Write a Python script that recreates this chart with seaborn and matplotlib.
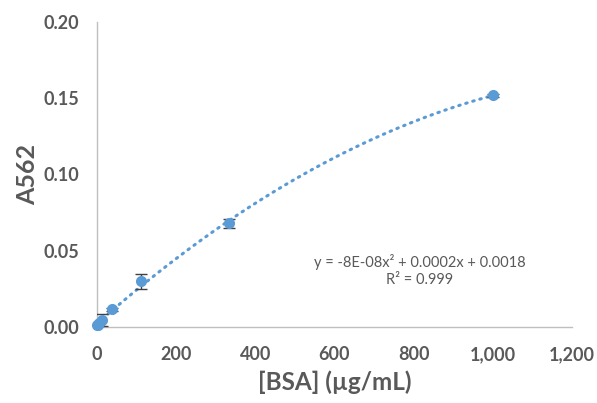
import numpy as np
import pandas as pd
import matplotlib
matplotlib.use("Agg")
import matplotlib.pyplot as plt
import seaborn as sns

# Data
bsa = [0, 1.37, 4.1, 12.3, 37, 111, 333, 1000]
a562 = [0.0010, 0.0015, 0.0025, 0.0045, 0.0115, 0.0300, 0.0680, 0.1520]
err = [0.0005, 0.0005, 0.0008, 0.0040, 0.0008, 0.0050, 0.0030, 0.0008]
xticks = [0, 200, 400, 600, 800, 1000, 1200]
yticks = [0.00, 0.05, 0.10, 0.15, 0.20]
eq_text = "y = -8E-08x² + 0.0002x + 0.0018\nR² = 0.999"

df = pd.DataFrame({"bsa": bsa, "a562": a562, "err": err})

sns.set_theme(style="white")
plt.rcParams['font.family'] = ['Lato', 'DejaVu Sans']

fig = plt.figure(figsize=(5.97, 4.03), dpi=100)
ax = fig.add_axes([0.1625, 0.189, 0.7955, 0.756])

blue = "#5B9BD5"
gray = "#595959"

sns.regplot(data=df, x="bsa", y="a562", order=2, ci=None, scatter=False, ax=ax,
            line_kws=dict(color=blue, lw=2.2, linestyle=(0, (0.5, 1.9)), dash_capstyle="round"))
ax.errorbar(df["bsa"], df["a562"], yerr=df["err"], fmt="none", ecolor="#404040",
            elinewidth=1, capsize=4, capthick=1, zorder=3)
sns.scatterplot(data=df, x="bsa", y="a562", color=blue, s=64, edgecolor=blue,
                linewidth=0, ax=ax, zorder=4)
for c in ax.collections:
    c.set_clip_on(False)

ax.set_xlim(0, 1200)
ax.set_ylim(0, 0.20)
ax.set_xticks(xticks)
ax.set_xticklabels([f"{v:,}" for v in xticks])
ax.set_yticks(yticks)
ax.set_yticklabels([f"{v:.2f}" for v in yticks])
ax.tick_params(axis="both", length=0, labelsize=13, labelcolor=gray)
ax.tick_params(axis="y", pad=13)
ax.tick_params(axis="x", pad=14)
for lab in ax.get_xticklabels() + ax.get_yticklabels():
    lab.set_fontweight("bold")

ax.set_xlabel("[BSA] (µg/mL)", fontsize=17.5, fontweight="bold", color=gray, labelpad=5)
ax.set_ylabel("A562", fontsize=18, fontweight="bold", color=gray, labelpad=3)

for s in ["top", "right"]:
    ax.spines[s].set_visible(False)
for s in ["left", "bottom"]:
    ax.spines[s].set_color("#BFBFBF")
    ax.spines[s].set_linewidth(1)

ax.text(816, 0.037, eq_text, ha="center", va="center", fontsize=10.5,
        color=gray, linespacing=1.3)

fig.savefig("out.png", dpi=100)
